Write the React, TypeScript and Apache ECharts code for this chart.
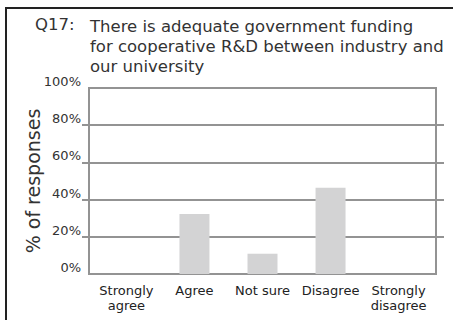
import React, { useEffect, useRef } from "react";
import * as echarts from "echarts";

const categories = ["Strongly\nagree", "Agree", "Not sure", "Disagree", "Strongly\ndisagree"];
const values = [0, 32.3, 10.9, 46.4, 0];
const yTicks = [0, 20, 40, 60, 80, 100];
const innerTicks = [20, 40, 60, 80];
const questionLabel = "Q17:";
const titleLines = [
  "There is adequate government funding",
  "for cooperative R&D between industry and",
  "our university",
];

const FONT = "DejaVu Sans, Verdana, sans-serif";
const GRIDC = "#939393";

export default function App() {
  const ref = useRef<HTMLDivElement>(null);
  useEffect(() => {
    if (!ref.current) return;
    const chart = echarts.init(ref.current, undefined, { renderer: "svg" });
    chart.setOption({
      animation: false,
      backgroundColor: "#fff",
      textStyle: { fontFamily: FONT },
      grid: {
        left: 89,
        top: 88,
        right: 17,
        bottom: 46,
        containLabel: false,
        show: true,
        borderColor: GRIDC,
        borderWidth: 2,
      },
      xAxis: {
        type: "value",
        min: -0.55,
        max: 4.55,
        axisLine: { show: true, onZero: false, lineStyle: { color: GRIDC, width: 2 } },
        axisTick: { show: false },
        splitLine: { show: false },
        axisLabel: {
          customValues: categories.map((_, i) => i),
          formatter: (v: number) => categories[Math.round(v)] ?? "",
          color: "#222",
          fontSize: 13,
          lineHeight: 15,
          margin: 9,
          fontFamily: FONT,
        },
      },
      yAxis: [
        {
          type: "value",
          min: 0,
          max: 100,
          interval: 20,
          name: "% of responses",
          nameLocation: "middle",
          nameRotate: 90,
          nameGap: 47,
          nameMoveOverlap: false,
          nameTextStyle: { fontSize: 19, color: "#333", fontFamily: FONT },
          axisLine: { show: true, onZero: false, lineStyle: { color: GRIDC, width: 2 } },
          axisTick: {
            show: true,
            customValues: innerTicks,
            length: 7,
            lineStyle: { color: GRIDC, width: 2 },
          },
          axisLabel: {
            customValues: yTicks,
            formatter: (v: number) => v + "%",
            color: "#333",
            fontSize: 13,
            margin: 8,
            verticalAlign: "bottom",
            fontFamily: FONT,
          },
          splitLine: { show: true, lineStyle: { color: GRIDC, width: 2 } },
        },
        {
          type: "value",
          position: "right",
          min: 0,
          max: 100,
          interval: 20,
          axisLine: { show: true, onZero: false, lineStyle: { color: GRIDC, width: 2 } },
          axisTick: {
            show: true,
            customValues: innerTicks,
            length: 8,
            lineStyle: { color: GRIDC, width: 2 },
          },
          axisLabel: { show: false },
          splitLine: { show: false },
        },
      ],
      series: [
        {
          type: "bar",
          yAxisIndex: 0,
          barWidth: 30,
          data: values.map((v, i) => [i, v]),
          itemStyle: { color: "#d3d3d4" },
        },
      ],
      graphic: [
        {
          type: "rect",
          shape: { x: 6, y: 8, width: 470, height: 340 },
          style: { fill: "none", stroke: "#222", lineWidth: 2 },
          silent: true,
        },
        {
          type: "text",
          x: 35,
          y: 16,
          style: { text: questionLabel, font: `16.5px ${FONT}`, fill: "#333" },
        },
        {
          type: "text",
          x: 90,
          y: 16,
          style: { text: titleLines.join("\n"), font: `16.5px ${FONT}`, lineHeight: 20, fill: "#333" },
        },
      ],
    });
    return () => chart.dispose();
  }, []);
  return (
    <div
      ref={ref}
      style={{ position: "fixed", left: 0, top: 0, width: 453, height: 320 }}
    />
  );
}
